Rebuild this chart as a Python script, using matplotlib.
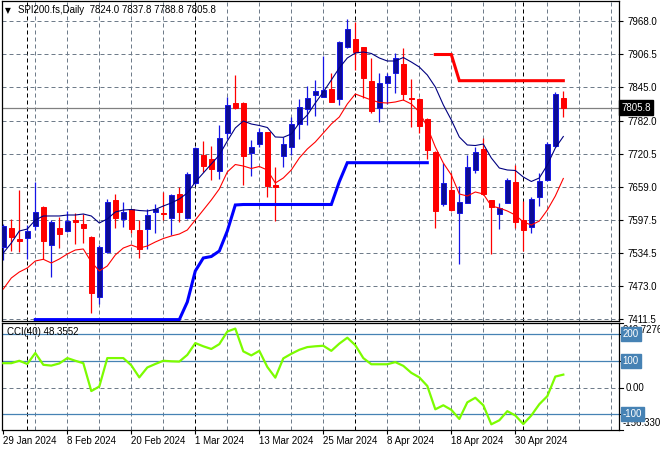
import numpy as np
import matplotlib
matplotlib.use('Agg')
import matplotlib.pyplot as plt
import matplotlib.transforms as mtransforms

# daily bars, 29 Jan 2024 .. 8 May 2024
opens = [7545.7, 7581.1, 7560.6, 7563.6, 7586.0, 7620.8, 7550.6, 7581.7, 7576.7, 7597.2,
         7589.1, 7565.5, 7453.7, 7537.0, 7633.9, 7597.9, 7616.5, 7578.0, 7580.4, 7610.9,
         7609.1, 7600.9, 7645.1, 7600.9, 7665.0, 7717.2, 7710.3, 7687.4, 7759.3, 7814.6,
         7814.6, 7722.0, 7738.8, 7760.6, 7661.8, 7715.9, 7733.2, 7775.5, 7804.0, 7830.1,
         7826.4, 7841.3, 7821.5, 7919.0, 7933.4, 7918.5, 7855.6, 7804.8, 7851.4, 7871.1,
         7887.3, 7824.0, 7821.2, 7784.8, 7723.9, 7626.4, 7652.5, 7609.1, 7628.9, 7689.8,
         7728.4, 7633.9, 7607.8, 7627.7, 7666.9, 7596.6, 7583.0, 7640.0, 7671.1, 7735.1,
         7824.0]
highs = [7589.1, 7598.5, 7652.5, 7587.3, 7666.9, 7622.7, 7596.6, 7602.8, 7614.0, 7609.7,
         7607.8, 7566.8, 7550.0, 7635.2, 7645.1, 7630.7, 7618.0, 7596.6, 7616.5, 7625.8,
         7649.3, 7645.1, 7658.7, 7686.6, 7732.1, 7744.4, 7734.5, 7773.1, 7826.4, 7866.8,
         7815.6, 7745.7, 7768.1, 7761.5, 7694.8, 7751.3, 7788.0, 7821.5, 7846.3, 7857.5,
         7902.2, 7870.0, 7930.2, 7971.2, 7966.2, 7919.0, 7898.0, 7870.6, 7871.1, 7907.3,
         7916.6, 7859.4, 7824.0, 7785.8, 7725.2, 7703.4, 7683.6, 7660.5, 7717.7, 7732.1,
         7748.8, 7634.8, 7627.7, 7674.3, 7699.1, 7632.6, 7640.0, 7683.6, 7742.5, 7835.7,
         7837.8]
lows = [7522.1, 7538.8, 7537.5, 7523.9, 7578.0, 7523.9, 7489.8, 7545.0, 7573.7, 7552.4,
        7553.2, 7423.8, 7439.5, 7534.5, 7582.3, 7583.0, 7571.8, 7525.2, 7542.0, 7571.8,
        7596.6, 7568.7, 7593.4, 7599.0, 7661.8, 7686.6, 7671.2, 7673.6, 7747.0, 7802.9,
        7661.8, 7678.6, 7732.1, 7638.9, 7595.3, 7695.9, 7717.7, 7747.0, 7773.6, 7790.4,
        7825.3, 7816.5, 7811.5, 7916.6, 7876.1, 7824.0, 7796.6, 7779.8, 7812.2, 7832.7,
        7820.2, 7770.5, 7758.7, 7709.7, 7582.3, 7623.3, 7614.3, 7514.6, 7628.3, 7684.7,
        7643.2, 7532.7, 7579.3, 7627.4, 7581.1, 7539.4, 7571.8, 7622.7, 7670.2, 7733.2,
        7788.8]
closes = [7585.4, 7564.4, 7556.9, 7576.1, 7612.1, 7558.0, 7592.9, 7571.1, 7594.7, 7593.4,
          7582.2, 7461.2, 7546.9, 7630.2, 7600.9, 7611.5, 7579.3, 7542.0, 7605.4, 7616.5,
          7607.8, 7642.6, 7611.5, 7682.3, 7730.2, 7697.2, 7692.2, 7749.4, 7810.4, 7805.9,
          7715.9, 7732.1, 7760.6, 7660.0, 7657.5, 7738.2, 7775.5, 7806.6, 7823.4, 7837.6,
          7838.9, 7817.1, 7927.8, 7952.0, 7910.3, 7860.3, 7800.3, 7851.4, 7865.0, 7898.5,
          7830.5, 7821.2, 7772.3, 7727.1, 7614.0, 7665.0, 7615.2, 7629.6, 7694.8, 7723.9,
          7644.5, 7620.3, 7618.4, 7671.1, 7593.4, 7578.0, 7635.7, 7669.8, 7738.2, 7830.9,
          7805.8]

ma_fast = [7535.1, 7553.7, 7576.1, 7579.8, 7596.6, 7604.1, 7604.1, 7604.1, 7605.9, 7605.9,
           7607.8, 7604.1, 7591.0, 7598.5, 7611.5, 7615.2, 7616.2, 7614.3, 7613.4, 7616.2,
           7622.7, 7628.3, 7635.8, 7646.9, 7667.4, 7684.2, 7701.0, 7717.7, 7743.8, 7768.1,
           7781.1, 7775.5, 7772.7, 7769.0, 7751.3, 7750.7, 7756.9, 7777.4, 7792.3, 7814.6,
           7835.1, 7857.5, 7879.9, 7898.5, 7907.8, 7909.7, 7906.9, 7898.5, 7892.9, 7892.9,
           7899.4, 7891.0, 7881.7, 7866.8, 7844.5, 7811.1, 7783.0, 7751.3, 7736.4, 7735.4,
           7738.2, 7712.2, 7693.5, 7689.8, 7688.9, 7676.7, 7668.4, 7674.9, 7699.1, 7730.8,
           7752.2]
ma_slow = [7468.0, 7488.5, 7499.7, 7507.2, 7520.2, 7523.4, 7516.5, 7523.9, 7533.2, 7540.7,
           7542.6, 7518.4, 7501.6, 7510.9, 7531.4, 7544.4, 7550.0, 7544.4, 7548.1, 7555.6,
           7562.1, 7566.8, 7570.5, 7578.0, 7596.6, 7615.2, 7633.9, 7654.4, 7686.1, 7700.0,
           7697.2, 7692.6, 7696.3, 7689.8, 7665.6, 7674.9, 7689.8, 7712.2, 7728.9, 7742.0,
           7758.7, 7775.5, 7788.6, 7812.8, 7831.4, 7825.8, 7820.2, 7815.6, 7814.6, 7816.5,
           7820.2, 7812.8, 7797.9, 7769.9, 7732.7, 7702.8, 7680.5, 7645.1, 7641.3, 7648.8,
           7645.1, 7622.7, 7619.0, 7613.4, 7605.9, 7592.9, 7587.3, 7594.7, 7615.2, 7641.3,
           7674.0]

# thick stop lines
support_start = 4
support = [7411.0] * 19 + [7443.8, 7501.6, 7525.8, 7528.6, 7538.8, 7576.1, 7624.6] + \
          [7625.5] * 12 + [7668.0] + [7703.4] * 11
resist_start = 54
resist = [7905.0, 7905.0, 7905.0] + [7856.2] * 14

cci = [91, 91, 100, 88, 129, 85, 82, 90, 110, 100,
       91, -13, 4, 110, 110, 110, 83, 38, 75, 88,
       100, 98, 97, 122, 166, 154, 144, 162, 209, 220,
       135, 120, 137, 77, 37, 109, 126, 141, 151, 154,
       156, 137, 164, 186, 158, 110, 87, 87, 87, 95,
       81, 55, 38, 6, -81, -66, -83, -117, -55, -38,
       -66, -137, -122, -88, -104, -136, -104, -62, -32, 41,
       48.3552]

price_ticks = [7968.0, 7906.5, 7845.0, 7782.0, 7720.5, 7659.0, 7597.5, 7534.5, 7473.0, 7411.5]
date_pos = [0, 8, 16, 24, 32, 40, 48, 56, 64]
date_labels = ['29 Jan 2024', '8 Feb 2024', '20 Feb 2024', '1 Mar 2024', '13 Mar 2024',
               '25 Mar 2024', '8 Apr 2024', '18 Apr 2024', '30 Apr 2024']
month_starts = [3, 24, 44, 65]
last_price = 7805.8

plt.rcParams['font.family'] = ['Liberation Sans', 'DejaVu Sans']

W, H = 660, 450
fig = plt.figure(figsize=(W / 100, H / 100), dpi=100)
ax = fig.add_axes([2 / W, 1 - 321 / H, 617 / W, 320 / H])
ax2 = fig.add_axes([2 / W, 1 - 429.5 / H, 617 / W, 107 / H])

xlim = (-0.1625, 76.96)
grid_col = '#6f7c8a'
dash = (0, (4, 3))

n = len(closes)
x = np.arange(n)

for a in (ax, ax2):
    a.set_xlim(*xlim)
    for k in range(4, 77, 4):
        if k not in month_starts:
            a.axvline(k, color=grid_col, lw=0.72, ls=dash, zorder=0)
    for k in month_starts:
        a.axvline(k, color='black', lw=0.72, ls=dash, zorder=0)
    for s in a.spines.values():
        s.set_color('black')
        s.set_linewidth(0.9)

# main panel
ax.set_ylim(7408.4, 8004.7)
for p in price_ticks:
    ax.axhline(p, color=grid_col, lw=0.72, ls=dash, zorder=0)
ax.axhline(last_price, color='#808080', lw=0.9, zorder=1)

o = np.array(opens)
c = np.array(closes)
up = c >= o
for i in range(n):
    col = '#1414e6' if up[i] else '#ff0000'
    face = '#0c0c96' if up[i] else '#ff0000'
    ax.vlines(x[i], lows[i], highs[i], color=col, lw=0.9, zorder=2)
    lo = min(o[i], c[i])
    hgt = max(abs(c[i] - o[i]), 1.2)
    ax.bar(x[i], hgt, bottom=lo, width=0.6, color=face, edgecolor=col, lw=0.7, zorder=3)

ax.plot(x, ma_fast, color='#000080', lw=0.8, zorder=4)
ax.plot(x, ma_slow, color='#ff0000', lw=0.8, zorder=4)
ax.plot(np.arange(support_start, support_start + len(support)), support,
        color='#0000ff', lw=2.2, zorder=4, solid_joinstyle='miter')
ax.plot(np.arange(resist_start, resist_start + len(resist)), resist,
        color='#ff0000', lw=2.2, zorder=4, solid_joinstyle='miter')

ax.yaxis.tick_right()
ax.set_yticks(price_ticks)
ax.set_yticklabels(['%.1f' % p for p in price_ticks])
ax.tick_params(axis='y', length=3, width=0.8, pad=3, labelsize=7, colors='black')
ax.set_xticks([])

trans = mtransforms.blended_transform_factory(ax.transAxes, ax.transData)
ax.text(1.004, last_price, '%.1f' % last_price, transform=trans, ha='left', va='center',
        fontsize=7, color='white', clip_on=False, zorder=10,
        bbox=dict(boxstyle='square,pad=0.25', fc='black', ec='black'))

ax.text(0.0097, 0.971, '\u25bc', transform=ax.transAxes, fontsize=5.5, ha='center',
        va='center', family=['DejaVu Sans'])
ax.text(0.026, 0.971, 'SPI200.fs,Daily  7824.0 7837.8 7788.8 7805.8',
        transform=ax.transAxes, fontsize=7, ha='left', va='center', color='black')

# CCI panel
ax2.set_ylim(-156.33, 242.7276)
ax2.axhline(0, color=grid_col, lw=0.72, ls=dash, zorder=0)
for lv in (200, 100, -100):
    ax2.axhline(lv, color='#4682b4', lw=0.9, zorder=1)
ax2.plot(x, cci, color='#7cfc00', lw=1.6, zorder=3)
ax2.set_yticks([])
ax2.text(0.008, 0.915, 'CCI(40) 48.3552', transform=ax2.transAxes, fontsize=7,
         ha='left', va='center', color='black')

trans2 = mtransforms.blended_transform_factory(ax2.transAxes, ax2.transData)
for lv, lab in ((200, '200'), (100, '100'), (-100, '-100')):
    ax2.text(1.006, lv, lab, transform=trans2, ha='left', va='center', fontsize=7,
             color='white', clip_on=False, zorder=10,
             bbox=dict(boxstyle='square,pad=0.2', fc='#4682b4', ec='#4682b4'))
ax2.text(1.010, 0, '0.00', transform=trans2, ha='left', va='center', fontsize=7,
         color='black', clip_on=False)
ax2.text(1.006, 0.93, '242.7276', transform=ax2.transAxes, ha='left', va='center',
         fontsize=7, color='black', clip_on=False)
ax2.text(1.006, 0.06, '-156.330', transform=ax2.transAxes, ha='left', va='center',
         fontsize=7, color='black', clip_on=False)
for lv in (242.7276, 200, 100, 0, -100, -156.33):
    ax2.plot([1.0, 1.006], [lv, lv], transform=trans2, color='black', lw=0.8, clip_on=False)

ax2.set_xticks(date_pos)
ax2.set_xticklabels(date_labels, ha='left')
ax2.tick_params(axis='x', length=3, width=0.8, pad=2, labelsize=7, colors='black')

fig.savefig('out.png', dpi=100, facecolor='white')
